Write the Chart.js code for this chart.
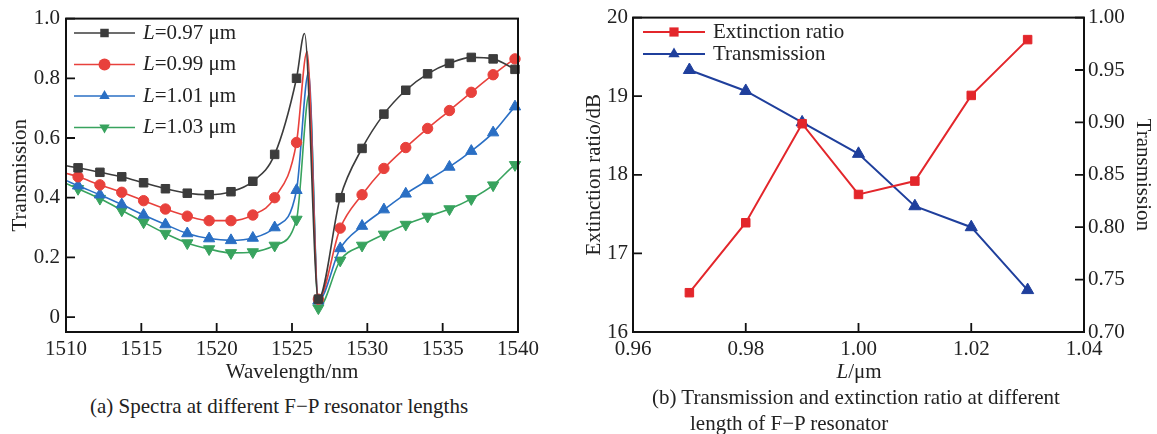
<!DOCTYPE html>
<html>
<head>
<meta charset="utf-8">
<script src="https://cdn.jsdelivr.net/npm/chart.js@4.4.1/dist/chart.umd.min.js"></script>
<style>
  body { margin: 0; background: #fff; width: 1157px; height: 434px; position: relative; overflow: hidden;
         font-family: 'Liberation Serif', 'Times New Roman', serif; color: #222; }
  canvas { position: absolute; top: 0; }
  #spectra { left: 0; }
  #ratio { left: 560px; }
  .cap { position: absolute; font-size: 21px; white-space: nowrap; line-height: 26px; }
</style>
</head>
<body>
<canvas id="spectra" width="560" height="390"></canvas>
<canvas id="ratio" width="597" height="390"></canvas>
<div class="cap" style="left:809px; top:358px; width:100px; text-align:center;"><i>L</i>/μm</div>
<div class="cap" style="left:90px; top:393px;">(a) Spectra at different F−P resonator lengths</div>
<div class="cap" style="left:652px; top:384px;">(b) Transmission and extinction ratio at different</div>
<div class="cap" style="left:690px; top:410px;">length of F−P resonator</div>
<script>
// ---- (a) spectra ----
// wavelengths of the plotted markers (nm), shared by all four lengths
const wlMarks = [1510.8, 1512.25, 1513.7, 1515.15, 1516.6, 1518.05, 1519.5, 1520.95, 1522.4, 1523.85,
                 1525.3, 1526.75, 1528.2, 1529.65, 1531.1, 1532.55, 1534.0, 1535.45, 1536.9, 1538.35, 1539.8];
const t097 = [0.50, 0.485, 0.47, 0.45, 0.43, 0.415, 0.41, 0.42, 0.455, 0.545,
              0.80, 0.06, 0.40, 0.565, 0.68, 0.76, 0.815, 0.85, 0.87, 0.865, 0.83];
const t099 = [0.47, 0.443, 0.418, 0.39, 0.362, 0.338, 0.323, 0.323, 0.342, 0.40,
              0.585, 0.06, 0.298, 0.41, 0.498, 0.568, 0.632, 0.692, 0.753, 0.812, 0.865];
const t101 = [0.44, 0.41, 0.377, 0.342, 0.31, 0.28, 0.263, 0.257, 0.265, 0.30,
              0.425, 0.055, 0.23, 0.305, 0.36, 0.413, 0.458, 0.503, 0.556, 0.618, 0.705];
const t103 = [0.43, 0.397, 0.358, 0.318, 0.28, 0.248, 0.228, 0.215, 0.218, 0.24,
              0.327, 0.03, 0.19, 0.24, 0.277, 0.31, 0.337, 0.362, 0.396, 0.442, 0.51];
// transmission at 1510 nm and 1540 nm (curve ends)
const ends097 = [0.507, 0.825];
const ends099 = [0.482, 0.87];
const ends101 = [0.458, 0.715];
const ends103 = [0.448, 0.515];
// Fano peak just before the dip: [wavelength, transmission]
const peak097 = [1525.83, 0.95];
const peak099 = [1526.0, 0.89];
const peak101 = [1526.1, 0.82];
const peak103 = [1526.15, 0.75];
const wlTicks = [1510, 1515, 1520, 1525, 1530, 1535, 1540];
const tTicks = [0, 0.2, 0.4, 0.6, 0.8, 1.0];

// ---- (b) extinction ratio / transmission vs length ----
const lengths = [0.97, 0.98, 0.99, 1.00, 1.01, 1.02, 1.03];
const extRatio = [16.5, 17.39, 18.65, 17.75, 17.92, 19.01, 19.72];
const trans = [0.95, 0.93, 0.90, 0.87, 0.82, 0.80, 0.74];
const lenTicks = [0.96, 0.98, 1.00, 1.02, 1.04];
const erTicks = [16, 17, 18, 19, 20];
const trTicks = [0.70, 0.75, 0.80, 0.85, 0.90, 0.95, 1.00];

const serif = "'Liberation Serif', 'Times New Roman', serif";
Chart.defaults.font.family = serif;
Chart.defaults.font.size = 21;
Chart.defaults.color = '#222';

function spectrum(vals, ends, peak) {
  const pts = [{x: 1510, y: ends[0], m: false}, {x: 1540, y: ends[1], m: false}, {x: peak[0], y: peak[1], m: false}];
  wlMarks.forEach((w, i) => pts.push({x: w, y: vals[i], m: true}));
  return pts.sort((a, b) => a.x - b.x);
}

function fixTicks(list) {
  return function (scale) { scale.ticks = list.map(v => ({value: v})); };
}

function drawMark(ctx, style, x, y, r, rot) {
  ctx.beginPath();
  if (style === 'circle') {
    ctx.arc(x, y, r, 0, Math.PI * 2);
  } else if (style === 'rect') {
    const s = r * Math.SQRT1_2;
    ctx.rect(x - s, y - s, 2 * s, 2 * s);
  } else {
    let a = (rot || 0) * Math.PI / 180;
    for (let k = 0; k < 3; k++) {
      const px = x + Math.sin(a) * r, py = y - Math.cos(a) * r;
      k ? ctx.lineTo(px, py) : ctx.moveTo(px, py);
      a += Math.PI * 2 / 3;
    }
    ctx.closePath();
  }
  ctx.fill();
}

// box round the plot area plus short inward tick marks
const frame = {
  id: 'frame',
  afterDraw(chart, args, opts) {
    const {ctx, chartArea: a} = chart;
    ctx.save();
    ctx.strokeStyle = '#111';
    ctx.lineWidth = 2;
    ctx.strokeRect(a.left, a.top, a.right - a.left, a.bottom - a.top);
    ctx.lineWidth = 1.8;
    ctx.beginPath();
    (opts.ticks || []).forEach(id => {
      const sc = chart.scales[id];
      sc.ticks.forEach(t => {
        const p = sc.getPixelForValue(t.value);
        if (sc.position === 'bottom') { ctx.moveTo(p, a.bottom); ctx.lineTo(p, a.bottom - opts.len); }
        else if (sc.position === 'left') { ctx.moveTo(a.left, p); ctx.lineTo(a.left + opts.len, p); }
        else { ctx.moveTo(a.right, p); ctx.lineTo(a.right - opts.len, p); }
      });
    });
    ctx.stroke();
    ctx.restore();
  }
};

// legend drawn inside the plot: line with marker, then label (leading L in italics)
const boxLegend = {
  id: 'boxLegend',
  afterDraw(chart, args, opts) {
    const ctx = chart.ctx;
    ctx.save();
    ctx.textBaseline = 'middle';
    chart.data.datasets.forEach((ds, i) => {
      const y = opts.y + i * opts.dy;
      ctx.strokeStyle = ds.borderColor;
      ctx.lineWidth = ds.borderWidth;
      ctx.beginPath();
      ctx.moveTo(opts.x0, y);
      ctx.lineTo(opts.x1, y);
      ctx.stroke();
      ctx.fillStyle = ds.backgroundColor;
      drawMark(ctx, ds.pointStyle, (opts.x0 + opts.x1) / 2, y, opts.r || 6, ds.rotation);
      ctx.fillStyle = '#222';
      let tx = opts.tx;
      let text = ds.label;
      if (text.startsWith('L=')) {
        ctx.font = 'italic ' + opts.size + 'px ' + serif;
        ctx.fillText('L', tx, y);
        tx += ctx.measureText('L').width;
        text = text.slice(1);
      }
      ctx.font = opts.size + 'px ' + serif;
      ctx.fillText(text, tx, y);
    });
    ctx.restore();
  }
};

function line(label, data, color, style, radius, rot) {
  return {
    label: label, data: data,
    borderColor: color, backgroundColor: color,
    borderWidth: 1.6,
    pointStyle: style, rotation: rot || 0,
    pointRadius: c => (c.raw && c.raw.m ? radius : 0),
    pointBorderWidth: 1,
    pointHoverRadius: 0,
    cubicInterpolationMode: 'monotone',
    clip: false
  };
}

const noGrid = { display: false, drawTicks: false };

new Chart(document.getElementById('spectra'), {
  type: 'line',
  data: {
    datasets: [
      line('L=0.97 μm', spectrum(t097, ends097, peak097), '#3c3c3c', 'rect', 6),
      line('L=0.99 μm', spectrum(t099, ends099, peak099), '#e8413c', 'circle', 5.2),
      line('L=1.01 μm', spectrum(t101, ends101, peak101), '#2a6fc4', 'triangle', 6.5),
      line('L=1.03 μm', spectrum(t103, ends103, peak103), '#38a35e', 'triangle', 6.5, 180)
    ]
  },
  plugins: [frame, boxLegend],
  options: {
    responsive: false,
    animation: false,
    layout: { padding: { top: 16, right: 42, left: 0, bottom: 0 } },
    plugins: {
      legend: { display: false },
      tooltip: { enabled: false },
      frame: { ticks: ['x', 'y'], len: 9 },
      boxLegend: { x0: 74, x1: 135, tx: 143, y: 33, dy: 31.5, size: 21, r: 6 }
    },
    scales: {
      x: {
        type: 'linear', min: 1510, max: 1540,
        afterBuildTicks: fixTicks(wlTicks),
        afterFit: s => { s.height = 58; },
        grid: noGrid,
        border: { display: false },
        ticks: { padding: 5, maxRotation: 0, callback: v => String(v) },
        title: { display: true, text: 'Wavelength/nm', padding: { top: 0, bottom: 5 } }
      },
      y: {
        min: -0.05, max: 1.0,
        afterBuildTicks: fixTicks(tTicks),
        afterFit: s => { s.width = 66; },
        grid: noGrid,
        border: { display: false },
        ticks: { padding: 6, callback: v => (v === 0 ? '0' : v.toFixed(1)) },
        title: { display: true, text: 'Transmission', padding: { top: 7.5, bottom: 0 } }
      }
    }
  }
});

new Chart(document.getElementById('ratio'), {
  type: 'line',
  data: {
    labels: lengths,
    datasets: [
      {
        label: 'Extinction ratio', data: extRatio, yAxisID: 'yL',
        borderColor: '#e3262b', backgroundColor: '#e3262b', borderWidth: 2,
        pointStyle: 'rect', pointRadius: 6, pointBorderWidth: 1, pointHoverRadius: 0, clip: false
      },
      {
        label: 'Transmission', data: trans, yAxisID: 'yR',
        borderColor: '#1f3f9c', backgroundColor: '#1f3f9c', borderWidth: 2,
        pointStyle: 'triangle', pointRadius: 7, pointBorderWidth: 1, pointHoverRadius: 0, clip: false
      }
    ]
  },
  plugins: [frame, boxLegend],
  options: {
    responsive: false,
    animation: false,
    layout: { padding: { top: 16, right: 0, left: 0, bottom: 0 } },
    plugins: {
      legend: { display: false },
      tooltip: { enabled: false },
      frame: { ticks: ['x', 'yL', 'yR'], len: 9 },
      boxLegend: { x0: 83, x1: 145, tx: 153, y: 32, dy: 22, size: 21, r: 6.5 }
    },
    scales: {
      x: {
        type: 'linear', min: 0.96, max: 1.04,
        afterBuildTicks: fixTicks(lenTicks),
        afterFit: s => { s.height = 58; },
        grid: noGrid,
        border: { display: false },
        ticks: { padding: 5, maxRotation: 0, callback: v => v.toFixed(2) }
      },
      yL: {
        position: 'left', min: 16, max: 20,
        afterBuildTicks: fixTicks(erTicks),
        afterFit: s => { s.width = 73; },
        grid: noGrid,
        border: { display: false },
        ticks: { padding: 5, callback: v => String(v) },
        title: { display: true, text: 'Extinction ratio/dB', padding: { top: 22, bottom: 0 } }
      },
      yR: {
        position: 'right', min: 0.70, max: 1.00,
        afterBuildTicks: fixTicks(trTicks),
        afterFit: s => { s.width = 73; },
        grid: noGrid,
        border: { display: false },
        ticks: { padding: 4, callback: v => v.toFixed(2) },
        title: { display: true, text: 'Transmission', padding: { top: 1.5, bottom: 0 } }
      }
    }
  }
});
</script>
</body>
</html>
